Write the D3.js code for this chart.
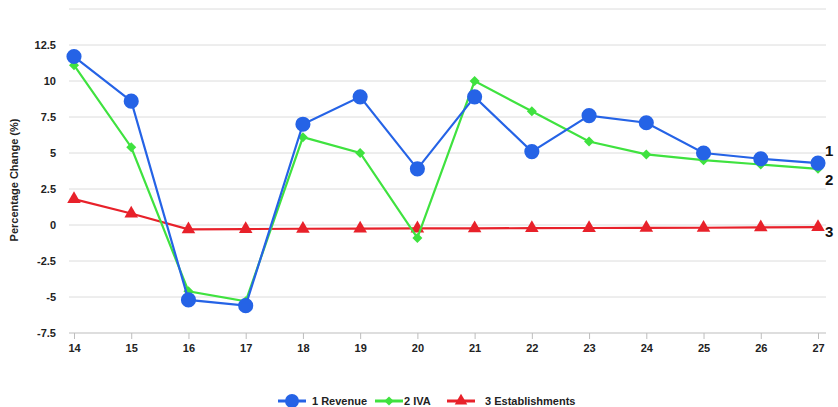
<!DOCTYPE html>
<html>
<head>
<meta charset="utf-8">
<script src="https://cdn.jsdelivr.net/npm/d3@7"></script>
<style>
  html, body { margin: 0; padding: 0; background: #fff; }
  svg { display: block; font-family: "Liberation Sans", Arial, Helvetica, sans-serif; }
</style>
</head>
<body>
<svg id="chart" width="838" height="407"></svg>
<script>
// Years (two-digit) along the x axis
const years = [14, 15, 16, 17, 18, 19, 20, 21, 22, 23, 24, 25, 26, 27];

// Percentage change per series
const revenue = [11.7, 8.6, -5.2, -5.6, 7.0, 8.9, 3.9, 8.9, 5.1, 7.6, 7.1, 5.0, 4.6, 4.3];
const iva = [11.1, 5.4, -4.6, -5.3, 6.1, 5.0, -0.9, 10.0, 7.9, 5.8, 4.9, 4.5, 4.2, 3.9];
const establishments = [1.8, 0.8, -0.3, -0.28, -0.26, -0.25, -0.24, -0.23, -0.22, -0.21, -0.2, -0.19, -0.17, -0.15];

const seriesNames = ["1 Revenue", "2 IVA", "3 Establishments"];
const endLabels = ["1", "2", "3"];
const yTicks = [-7.5, -5, -2.5, 0, 2.5, 5, 7.5, 10, 12.5, 15];
const yTickLabels = ["-7.5", "-5", "-2.5", "0", "2.5", "5", "7.5", "10", "12.5", ""];

const colors = ["#2563e6", "#3fe23f", "#e8212a"];
const symbols = [d3.symbolCircle, d3.symbolSquare, d3.symbolTriangle];
const symbolSizes = [180, 50, 80];
const symbolRotation = [0, 45, 0];

const svg = d3.select("#chart");
const plot = { left: 69, right: 826, top: 9, bottom: 333 };

const x = d3.scaleLinear().domain([14, 27]).range([74, 818]);
const y = d3.scaleLinear().domain([-7.5, 15]).range([plot.bottom, plot.top]);

// Horizontal gridlines
svg.append("g")
  .selectAll("line")
  .data(yTicks.filter(t => t !== -7.5))
  .join("line")
  .attr("x1", plot.left).attr("x2", plot.right)
  .attr("y1", d => y(d)).attr("y2", d => y(d))
  .attr("stroke", "#dcdcdc").attr("stroke-width", 1);

// Y tick labels
svg.append("g")
  .selectAll("text")
  .data(yTicks)
  .join("text")
  .attr("x", 56)
  .attr("y", d => y(d))
  .attr("dy", "0.35em")
  .attr("text-anchor", "end")
  .attr("font-size", 11)
  .attr("font-weight", "bold")
  .attr("fill", "#222")
  .text((d, i) => yTickLabels[i]);

// X axis
const xAxis = svg.append("g")
  .attr("transform", `translate(0,${plot.bottom})`)
  .call(d3.axisBottom(x).tickValues(years).tickSize(6).tickSizeOuter(0).tickPadding(5));
xAxis.select(".domain").attr("stroke", "#bdbdbd").attr("d", `M${plot.left},0H${plot.right}`);
xAxis.selectAll(".tick line").attr("stroke", "#bdbdbd");
xAxis.selectAll(".tick text")
  .attr("font-size", 11).attr("font-weight", "bold").attr("fill", "#222")
  .attr("font-family", "\"Liberation Sans\", Arial, sans-serif");

// Y axis title
svg.append("text")
  .attr("transform", "translate(18,180) rotate(-90)")
  .attr("text-anchor", "middle")
  .attr("font-size", 11)
  .attr("font-weight", "bold")
  .attr("fill", "#222")
  .text("Percentage Change (%)");

const allSeries = [revenue, iva, establishments];
const line = d3.line().x((d, i) => x(years[i])).y(d => y(d));

// Draw in reverse so Revenue sits on top
[2, 1, 0].forEach(s => {
  const g = svg.append("g");
  g.append("path")
    .datum(allSeries[s])
    .attr("fill", "none")
    .attr("stroke", colors[s])
    .attr("stroke-width", 2.2)
    .attr("d", line);
  g.selectAll("path.pt")
    .data(allSeries[s])
    .join("path")
    .attr("class", "pt")
    .attr("transform", (d, i) => `translate(${x(years[i])},${y(d)}) rotate(${symbolRotation[s]})`)
    .attr("d", d3.symbol().type(symbols[s]).size(symbolSizes[s]))
    .attr("fill", colors[s]);
});

// End-of-line labels
const endY = [y(revenue[13]) - 12, y(iva[13]) + 11, y(establishments[13]) + 5];
svg.append("g")
  .selectAll("text")
  .data(endLabels)
  .join("text")
  .attr("x", 825)
  .attr("y", (d, i) => endY[i])
  .attr("dy", "0.35em")
  .attr("font-size", 15)
  .attr("font-weight", "bold")
  .attr("fill", "#111")
  .text(d => d);

// Legend
const legendItems = [
  { x: 278, textX: 312 },
  { x: 375, textX: 404 },
  { x: 447, textX: 485 }
];
const legendY = 401;
const lg = svg.append("g");
seriesNames.forEach((name, s) => {
  const it = legendItems[s];
  lg.append("line")
    .attr("x1", it.x).attr("x2", it.x + 28)
    .attr("y1", legendY).attr("y2", legendY)
    .attr("stroke", colors[s]).attr("stroke-width", 3);
  lg.append("path")
    .attr("transform", `translate(${it.x + 14},${legendY}) rotate(${symbolRotation[s]})`)
    .attr("d", d3.symbol().type(symbols[s]).size(symbolSizes[s] * 0.85))
    .attr("fill", colors[s]);
  lg.append("text")
    .attr("x", it.textX)
    .attr("y", legendY)
    .attr("dy", "0.35em")
    .attr("font-size", 11)
    .attr("font-weight", "bold")
    .attr("fill", "#222")
    .text(name);
});
</script>
</body>
</html>
